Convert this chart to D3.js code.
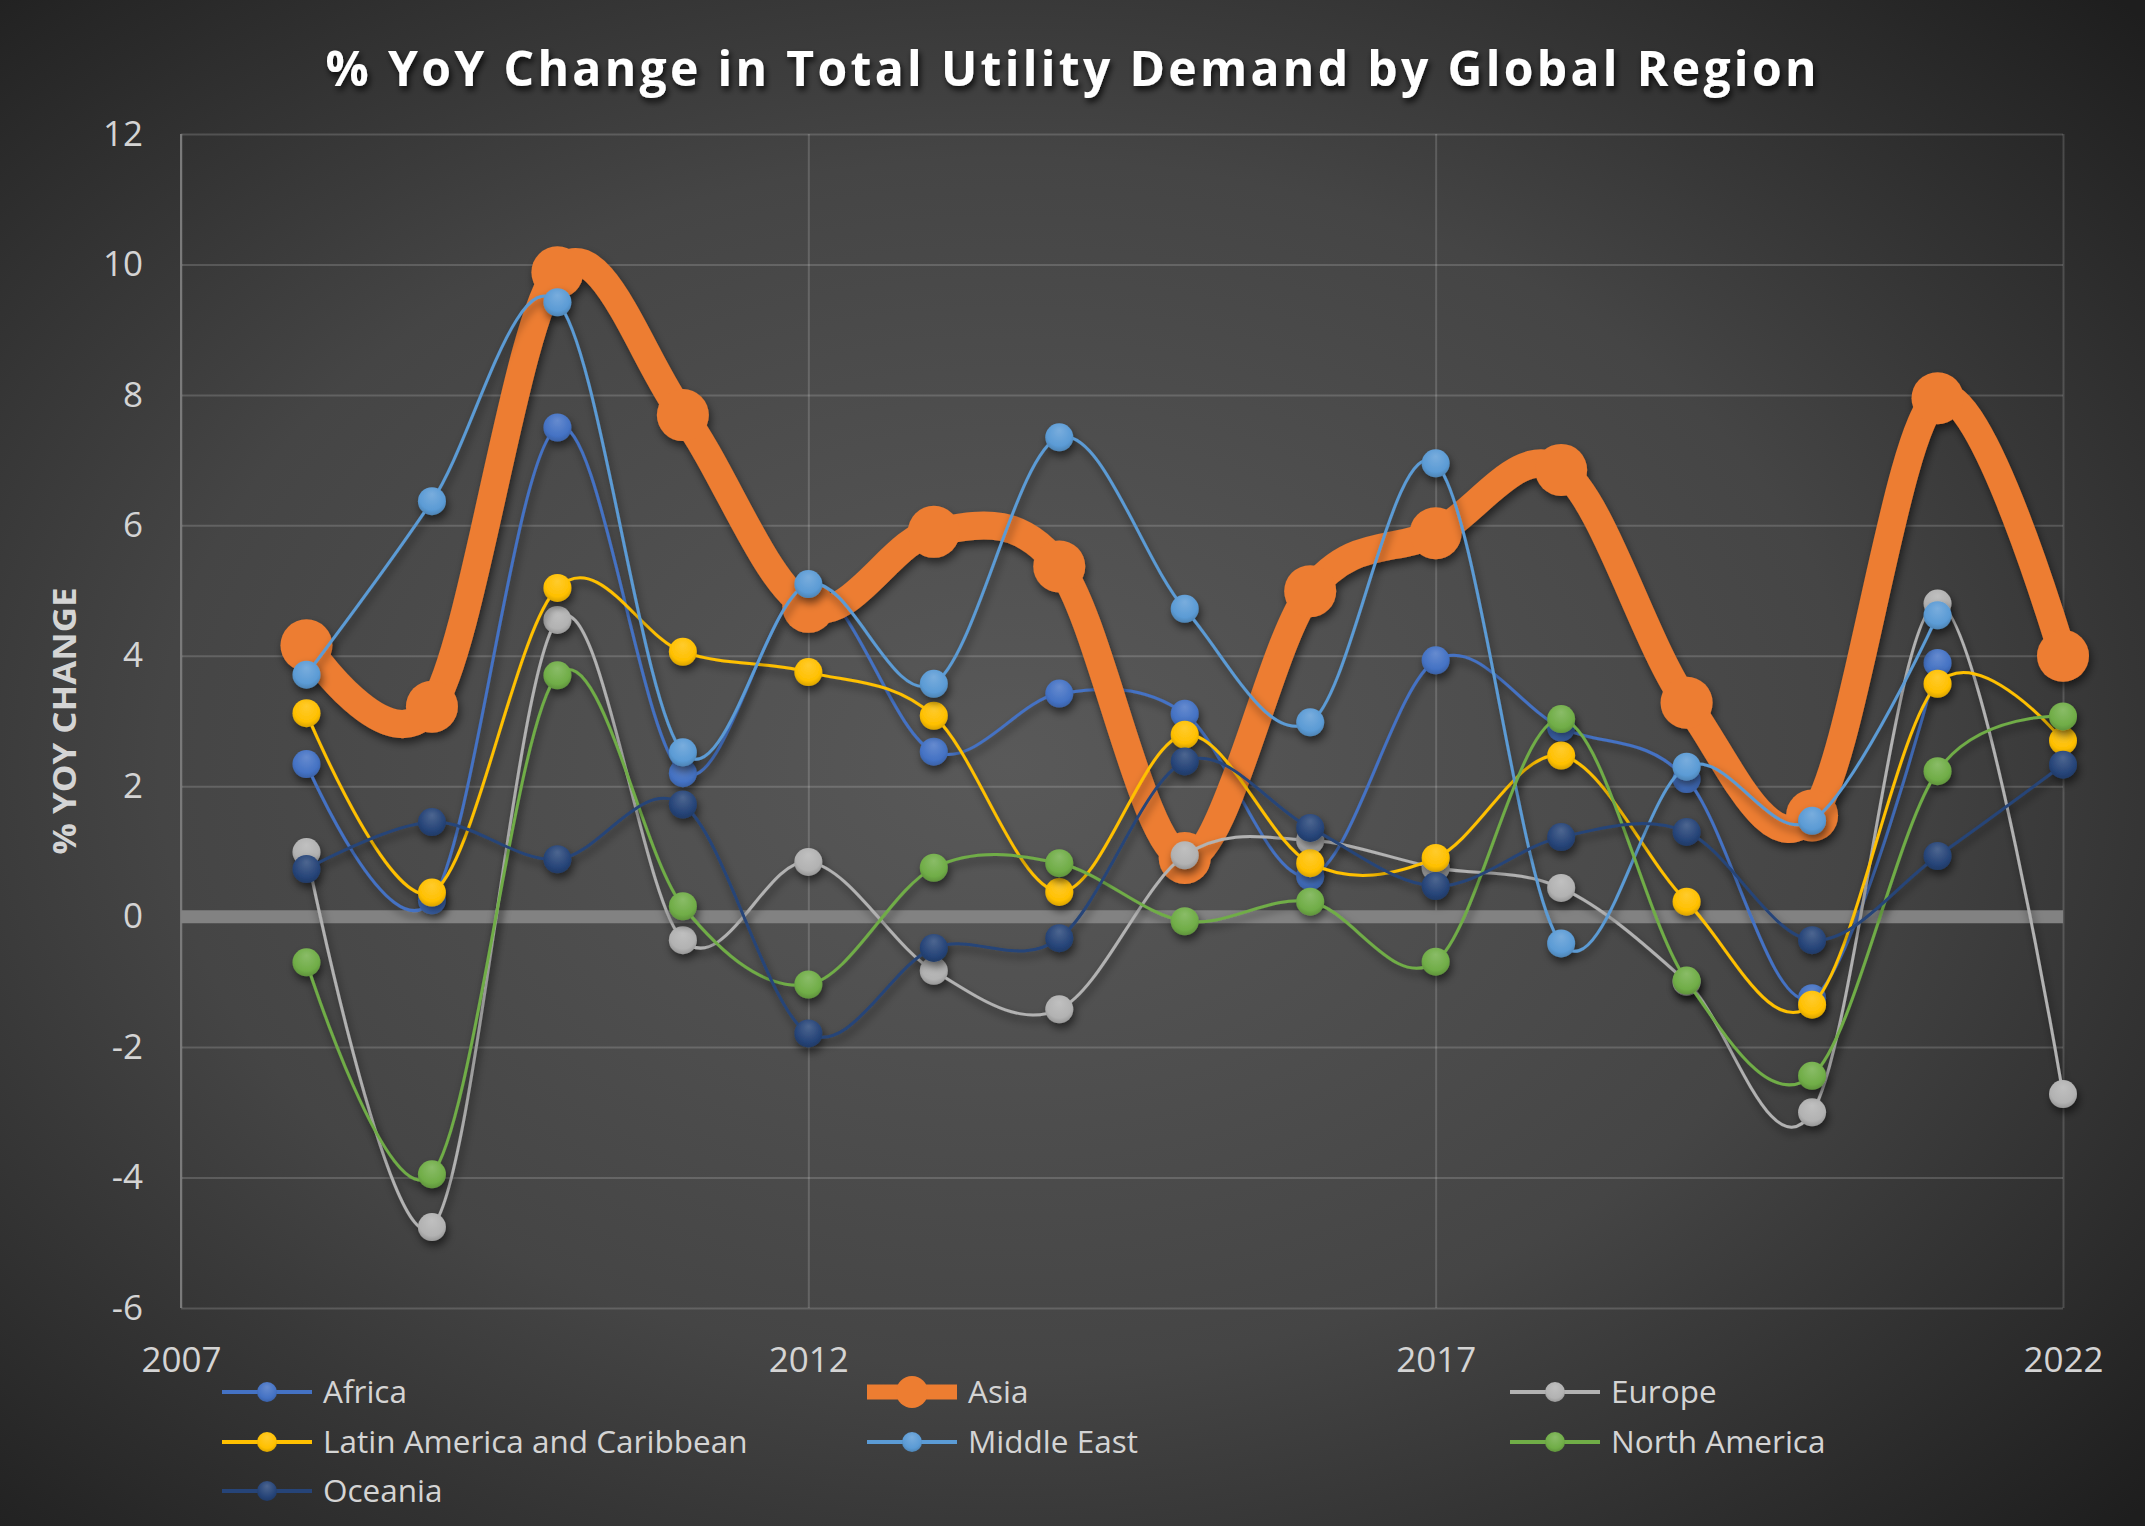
<!DOCTYPE html>
<html>
<head>
<meta charset="utf-8">
<script src="https://cdn.jsdelivr.net/npm/d3@7"></script>
<style>
  html, body { margin: 0; padding: 0; background: #2a2a2a; }
  svg { display: block; }
</style>
</head>
<body>
<svg id="chart" width="2145" height="1526"></svg>
<script>
// ---------------- DATA ----------------
const years = [2008, 2009, 2010, 2011, 2012, 2013, 2014, 2015, 2016, 2017, 2018, 2019, 2020, 2021, 2022];
const africa        = [2.34, 0.25, 7.50, 2.20, 5.05, 2.53, 3.42, 3.11, 0.62, 3.93, 2.90, 2.11, -1.25, 3.89, null];
const asia          = [4.16, 3.22, 9.88, 7.69, 4.75, 5.90, 5.37, 0.90, 4.99, 5.88, 6.85, 3.28, 1.55, 7.95, 4.00];
const europe        = [0.99, -4.76, 4.55, -0.36, 0.84, -0.83, -1.42, 0.94, 1.17, 0.75, 0.44, -1.00, -3.00, 4.80, -2.72];
const latinAmerica  = [3.12, 0.37, 5.04, 4.06, 3.75, 3.08, 0.38, 2.79, 0.82, 0.90, 2.47, 0.23, -1.35, 3.57, 2.70];
const middleEast    = [3.71, 6.37, 9.42, 2.52, 5.10, 3.57, 7.35, 4.72, 2.98, 6.95, -0.41, 2.30, 1.47, 4.62, null];
const northAmerica  = [-0.70, -3.95, 3.70, 0.16, -1.04, 0.75, 0.82, -0.07, 0.23, -0.69, 3.03, -0.98, -2.44, 2.23, 3.07];
const oceania       = [0.73, 1.45, 0.88, 1.72, -1.79, -0.48, -0.33, 2.38, 1.36, 0.47, 1.22, 1.30, -0.36, 0.93, 2.33];

const seriesNames  = ["Africa", "Asia", "Europe", "Latin America and Caribbean", "Middle East", "North America", "Oceania"];
const seriesValues = [africa, asia, europe, latinAmerica, middleEast, northAmerica, oceania];
const seriesColors = ["#4472C4", "#ED7D31", "#B2B2B2", "#FFC000", "#5B9BD5", "#70AD47", "#264478"];

const yTicks = [-6, -4, -2, 0, 2, 4, 6, 8, 10, 12];
const xTicks = [2007, 2012, 2017, 2022];
const titleText = "% YoY Change in Total Utility Demand by Global Region";
const yTitleText = "% YOY CHANGE";

// ---------------- LAYOUT ----------------
const W = 2145, H = 1526;
const plotL = 181, plotR = 2063, plotT = 134, plotB = 1308;
const FONT = "'Open Sans', 'DejaVu Sans', sans-serif";

const svg = d3.select("#chart");
const defs = svg.append("defs");

// background radial gradient
const bg = defs.append("radialGradient").attr("id", "bgGrad")
  .attr("cx", "0.47").attr("cy", "0.5").attr("r", "0.72");
bg.append("stop").attr("offset", "0").attr("stop-color", "#595959");
bg.append("stop").attr("offset", "0.55").attr("stop-color", "#454545");
bg.append("stop").attr("offset", "1").attr("stop-color", "#1e1e1e");

// drop shadows
const sh = defs.append("filter").attr("id", "shadow")
  .attr("x", "-20%").attr("y", "-20%").attr("width", "140%").attr("height", "140%");
sh.append("feDropShadow").attr("dx", 2).attr("dy", 5).attr("stdDeviation", 4)
  .attr("flood-color", "#000").attr("flood-opacity", 0.55);

const tsh = defs.append("filter").attr("id", "tshadow")
  .attr("x", "-5%").attr("y", "-30%").attr("width", "110%").attr("height", "160%");
tsh.append("feDropShadow").attr("dx", 2).attr("dy", 4).attr("stdDeviation", 3)
  .attr("flood-color", "#000").attr("flood-opacity", 0.8);

// marker gradients
seriesColors.forEach((c, i) => {
  const g = defs.append("radialGradient").attr("id", "mk" + i)
    .attr("cx", "0.5").attr("cy", "0.4").attr("r", "0.6").attr("fx", "0.5").attr("fy", "0.25");
  g.append("stop").attr("offset", "0").attr("stop-color", d3.interpolateRgb(c, "#ffffff")(0.18));
  g.append("stop").attr("offset", "0.75").attr("stop-color", c);
  g.append("stop").attr("offset", "1").attr("stop-color", d3.interpolateRgb(c, "#000000")(0.15));
});

svg.append("rect").attr("width", W).attr("height", H).attr("fill", "url(#bgGrad)");

// ---------------- SCALES ----------------
const x = d3.scaleLinear().domain([2007, 2022]).range([plotL, plotR]);
const y = d3.scaleLinear().domain([-6, 12]).range([plotB, plotT]);

// gridlines
const gridY = svg.append("g").attr("transform", `translate(${plotL},0)`)
  .call(d3.axisLeft(y).tickValues(yTicks).tickSize(-(plotR - plotL)).tickFormat(""));
gridY.select(".domain").remove();
gridY.selectAll("line").attr("stroke", "rgba(255,255,255,0.16)").attr("stroke-width", 2);

const gridX = svg.append("g").attr("transform", `translate(0,${plotB})`)
  .call(d3.axisBottom(x).tickValues(xTicks).tickSize(-(plotB - plotT)).tickFormat(""));
gridX.select(".domain").remove();
gridX.selectAll("line").attr("stroke", "rgba(255,255,255,0.16)").attr("stroke-width", 2);

// left axis line
svg.append("line").attr("x1", plotL).attr("x2", plotL).attr("y1", plotT).attr("y2", plotB)
  .attr("stroke", "#7a7a7a").attr("stroke-width", 2);

// zero line
svg.append("line").attr("x1", plotL).attr("x2", plotR).attr("y1", y(0)).attr("y2", y(0))
  .attr("stroke", "#828282").attr("stroke-width", 13);

// axis labels
const yAxis = svg.append("g").attr("transform", `translate(${plotL},0)`)
  .call(d3.axisLeft(y).tickValues(yTicks).tickSize(0).tickPadding(38).tickFormat(d => String(d)));
yAxis.select(".domain").remove();
yAxis.selectAll("text").attr("fill", "#d4d4d4").style("font-family", FONT).style("font-size", "35px");

const xAxis = svg.append("g").attr("transform", `translate(0,${plotB})`)
  .call(d3.axisBottom(x).tickValues(xTicks).tickSize(0).tickPadding(39).tickFormat(d => String(d)));
xAxis.select(".domain").remove();
xAxis.selectAll("text").attr("fill", "#d4d4d4").style("font-family", FONT).style("font-size", "35px");

// ---------------- SERIES ----------------
const line = d3.line()
  .defined(d => d.v !== null)
  .x(d => x(d.year)).y(d => y(d.v))
  .curve(d3.curveCatmullRom.alpha(0));

seriesNames.forEach((name, i) => {
  const data = years.map((yr, j) => ({ year: yr, v: seriesValues[i][j] }));
  const isAsia = name === "Asia";
  const g = svg.append("g").attr("filter", "url(#shadow)");
  g.append("path").datum(data)
    .attr("d", line)
    .attr("fill", "none")
    .attr("stroke", seriesColors[i])
    .attr("stroke-width", isAsia ? 28 : 3)
    .attr("stroke-linejoin", "round").attr("stroke-linecap", "round");
  g.selectAll("circle").data(data.filter(d => d.v !== null)).enter().append("circle")
    .attr("cx", d => x(d.year)).attr("cy", d => y(d.v))
    .attr("r", isAsia ? 26 : 14)
    .attr("fill", isAsia ? seriesColors[i] : `url(#mk${i})`);
});

// ---------------- TITLES ----------------
svg.append("text").attr("x", 1071).attr("y", 86).attr("text-anchor", "middle")
  .attr("fill", "#ffffff").attr("filter", "url(#tshadow)")
  .style("font-family", FONT).style("font-weight", "700").style("font-size", "48px")
  .attr("textLength", 1491).attr("lengthAdjust", "spacing")
  .text(titleText);

svg.append("text")
  .attr("transform", `translate(76,721) rotate(-90)`)
  .attr("text-anchor", "middle")
  .attr("fill", "#d4d4d4")
  .style("font-family", FONT).style("font-weight", "700").style("font-size", "33px")
  .attr("textLength", 267).attr("lengthAdjust", "spacingAndGlyphs")
  .text(yTitleText);

// ---------------- LEGEND ----------------
const colCenters = [267, 912, 1555];
const rowCenters = [1392, 1442, 1491];
const legend = svg.append("g");
seriesNames.forEach((name, i) => {
  const cx = colCenters[i % 3], cy = rowCenters[Math.floor(i / 3)];
  const isAsia = name === "Asia";
  const item = legend.append("g");
  item.append("line").attr("x1", cx - 45).attr("x2", cx + 45).attr("y1", cy).attr("y2", cy)
    .attr("stroke", seriesColors[i]).attr("stroke-width", isAsia ? 15 : 4);
  item.append("circle").attr("cx", cx).attr("cy", cy).attr("r", isAsia ? 16 : 10)
    .attr("fill", isAsia ? seriesColors[i] : `url(#mk${i})`);
  item.append("text").attr("x", cx + 56).attr("y", cy).attr("dy", "0.36em")
    .attr("fill", "#d4d4d4")
    .style("font-family", FONT).style("font-size", "31.5px")
    .text(name);
});
</script>
</body>
</html>
